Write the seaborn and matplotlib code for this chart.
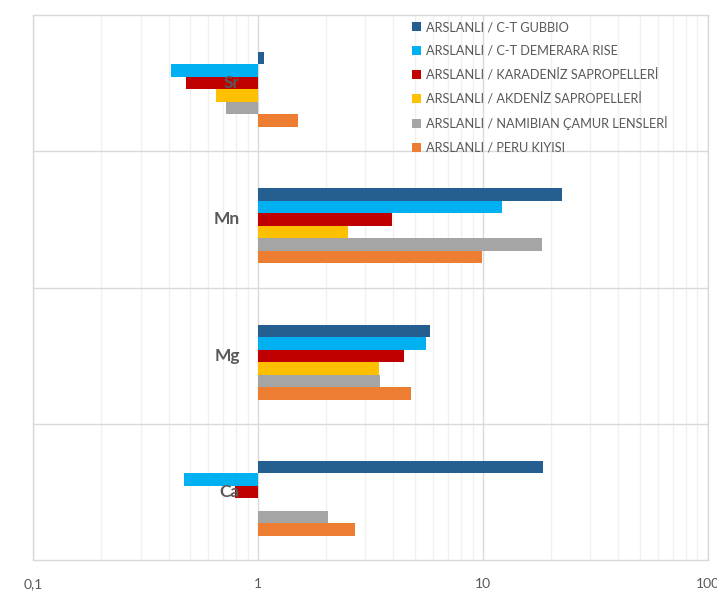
import numpy as np
import pandas as pd
import matplotlib
matplotlib.use("Agg")
import matplotlib.pyplot as plt
import matplotlib.ticker as mticker
import matplotlib.transforms as mtransforms
from matplotlib.patches import Patch
import seaborn as sns

# element ratios (bars start at 1)
elements = ["Sr", "Mn", "Mg", "Ca"]
series = [
    "ARSLANLI / C-T GUBBIO",
    "ARSLANLI / C-T DEMERARA RISE",
    "ARSLANLI / KARADENİZ SAPROPELLERİ",
    "ARSLANLI / AKDENİZ SAPROPELLERİ",
    "ARSLANLI / NAMIBIAN ÇAMUR LENSLERİ",
    "ARSLANLI / PERU KIYISI",
]
gubbio = [1.06, 22.5, 5.8, 18.5]
demerara = [0.41, 12.2, 5.6, 0.47]
karadeniz = [0.48, 3.95, 4.45, 0.79]
akdeniz = [0.65, 2.5, 3.45, np.nan]
namibian = [0.72, 18.3, 3.5, 2.05]
peru = [1.5, 9.9, 4.8, 2.7]
colors = ["#255e91", "#00b0f0", "#c00000", "#ffc000", "#a5a5a5", "#ed7d31"]
x_ticks = [0.1, 1, 10, 100]

# empty slot above the first series (the excel chart keeps 7 slots per category)
spacer = ""

rows = []
for name, vals in zip(series, [gubbio, demerara, karadeniz, akdeniz, namibian, peru]):
    for el, v in zip(elements, vals):
        rows.append({"element": el, "series": name, "ratio": v})
df = pd.DataFrame(rows)
df["delta"] = df["ratio"] - 1  # bars are drawn from the axis crossing at 1

sns.set_theme(style="white")
plt.rcParams["font.family"] = ["Lato", "DejaVu Sans"]
grey = "#595959"

fig = plt.figure(figsize=(7.17, 6.01), dpi=100)
ax = fig.add_axes([33.3 / 717, 1 - 560.3 / 601, 674.4 / 717, 545.3 / 601])

palette = dict(zip(series, colors))
palette[spacer] = "white"
sns.barplot(data=df, y="element", x="delta", hue="series", order=elements,
            hue_order=[spacer] + series, palette=palette, errorbar=None,
            width=0.642, left=1, linewidth=0, saturation=1, legend=False,
            ax=ax, zorder=2)

ax.set_xscale("log")
ax.set_xlim(0.1, 100)
ax.set_ylim(len(elements) - 0.5, -0.5)
ax.set_xticks(x_ticks)
ax.xaxis.set_major_formatter(mticker.FuncFormatter(lambda v, p: f"{v:g}".replace(".", ",")))
ax.xaxis.set_minor_locator(mticker.LogLocator(base=10, subs=np.arange(2, 10)))
ax.xaxis.set_minor_formatter(mticker.NullFormatter())
ax.set_yticks(np.arange(len(elements) - 1) + 0.5, minor=True)
ax.set_yticks([])
ax.set_xlabel("")
ax.set_ylabel("")

ax.set_axisbelow(True)
ax.grid(which="major", axis="x", color="#d9d9d9", lw=1)
ax.grid(which="minor", axis="x", color="#f0f0f0", lw=1)
ax.grid(which="minor", axis="y", color="#d9d9d9", lw=1)
ax.tick_params(which="both", length=0)
ax.tick_params(axis="x", labelsize=10, labelcolor=grey, pad=12.5)
for sp in ax.spines.values():
    sp.set_color("#d9d9d9")
    sp.set_linewidth(1)

# category labels sit next to the vertical axis at x = 1
lab_tr = mtransforms.offset_copy(ax.transData, fig=fig, x=-18, y=0, units="dots")
for i, el in enumerate(elements):
    ax.text(1, i, el, transform=lab_tr, ha="right", va="center",
            fontsize=12.5, fontweight="bold", color=grey, zorder=5)

handles = [Patch(facecolor=c, edgecolor="none") for c in colors]
ax.legend(handles, series, loc="upper left", bbox_to_anchor=(412 / 717, 1 - 21 / 601),
          bbox_transform=fig.transFigure, frameon=False, fontsize=9.2,
          labelcolor=grey, handlelength=0.7, handleheight=0.7, handletextpad=0.4,
          labelspacing=0.9, borderpad=0, borderaxespad=0)

fig.savefig("out.png", dpi=100)
